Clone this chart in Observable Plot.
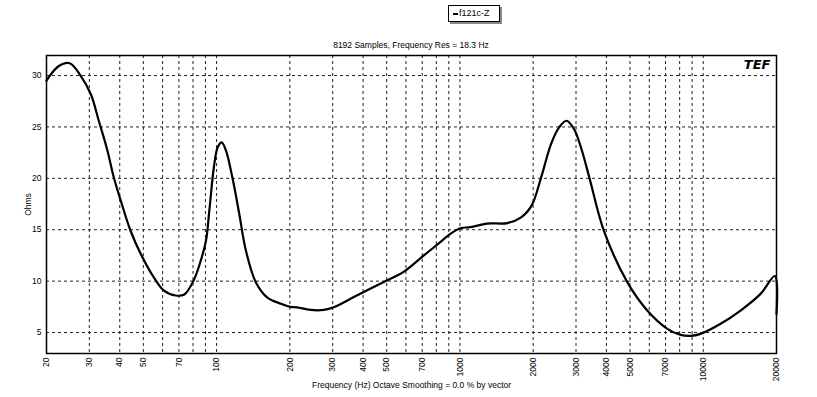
<!DOCTYPE html>
<html>
<head>
<meta charset="utf-8">
<script src="https://cdn.jsdelivr.net/npm/d3@7"></script>
<script src="https://cdn.jsdelivr.net/npm/@observablehq/plot@0.6"></script>
<style>
  body { margin: 0; background: #fff; }
  #wrap { position: relative; width: 817px; height: 397px; font-family: "Liberation Sans", Arial, sans-serif; }
  #legend { position: absolute; left: 448px; top: 5px; width: 52px; height: 17px; border: 1px solid #000; background: #fff;
            box-shadow: 2px 2px 0 #888; font-size: 9px; line-height: 15px; box-sizing: border-box; padding-left: 4px; }
  #legend span.sw { display: inline-block; width: 5px; height: 2px; background: #000; vertical-align: middle; margin-right: 1px; }
  #title { position: absolute; left: 0; width: 822px; top: 40px; text-align: center; font-size: 8.5px; }
  #wrap svg { position: absolute; left: 0; top: 0; }
</style>
</head>
<body>
<div id="wrap">
  <div id="legend"><span class="sw"></span>f121c-Z</div>
  <div id="title">8192 Samples, Frequency Res = 18.3 Hz</div>
</div>
<script>
// Impedance curve (Hz, Ohms)
const freqs = [20, 22.4, 24.9, 27.6, 30.4, 32.8, 35.5, 37.8, 40.3, 44.3, 48.8, 55.1, 60.6, 67.9, 73.7, 80.6, 85.6, 90.4, 93.4, 97.5, 101, 104.9, 109.3, 116.3, 123.8, 131.9, 144.9, 161.8, 183.9, 201, 214, 243, 276, 303, 377, 484, 587, 711, 845, 913, 1004, 1105, 1293, 1571, 1784, 1970, 2157, 2374, 2565, 2741, 2943, 3144, 3410, 3906, 4874, 5888, 7116, 8070, 8872, 9750, 11780, 14230, 17200, 19700, 20000];
const ohms  = [29.5, 30.9, 31.2, 30.0, 28.2, 25.6, 22.8, 20.1, 17.9, 14.9, 12.65, 10.4, 9.1, 8.6, 8.7, 10.1, 11.8, 13.9, 16.9, 21.1, 23.0, 23.5, 22.7, 20.0, 16.6, 13.0, 9.9, 8.4, 7.8, 7.5, 7.45, 7.2, 7.2, 7.45, 8.6, 9.9, 10.9, 12.5, 13.95, 14.6, 15.15, 15.25, 15.6, 15.65, 16.2, 17.35, 20.1, 23.4, 25.0, 25.6, 24.8, 23.0, 20.0, 14.9, 9.9, 7.14, 5.36, 4.77, 4.68, 4.87, 5.85, 7.14, 8.76, 10.5, 6.8];

const gridFreqs = [20, 30, 40, 50, 60, 70, 80, 90, 100, 200, 300, 400, 500, 600, 700, 800, 900, 1000, 2000, 3000, 4000, 5000, 6000, 7000, 8000, 9000, 10000, 20000];
const freqLabels = [20, 30, 40, 50, 70, 100, 200, 300, 400, 500, 700, 1000, 2000, 3000, 4000, 5000, 7000, 10000, 20000];
const ohmTicks = [5, 10, 15, 20, 25, 30];

const xLabel = "Frequency (Hz) Octave Smoothing = 0.0 % by vector";
const yLabel = "Ohms";
const logoText = "TEF";

const data = freqs.map((f, i) => ({f, z: ohms[i]}));

const chart = Plot.plot({
  width: 817,
  height: 397,
  marginLeft: 46,
  marginRight: 41,
  marginTop: 55,
  marginBottom: 44,
  style: {fontFamily: "'Liberation Sans', Arial, sans-serif", fontSize: "8.5px", background: "transparent", color: "#000"},
  x: {type: "log", domain: [20, 20000]},
  y: {domain: [2.96, 31.95]},
  marks: [
    Plot.ruleX(gridFreqs, {stroke: "#222", strokeDasharray: "3,3", strokeWidth: 1}),
    Plot.ruleY(ohmTicks, {stroke: "#222", strokeDasharray: "3,3", strokeWidth: 1}),
    Plot.axisY(ohmTicks, {tickSize: 0, tickPadding: 5, label: yLabel, labelAnchor: "center", labelOffset: 22, labelArrow: "none"}),
    Plot.axisX({ticks: [], tickSize: 0, label: xLabel, labelAnchor: "center", labelOffset: 34, labelArrow: "none"}),
    Plot.text(freqLabels, {x: d => d, text: d => String(d), frameAnchor: "bottom", rotate: -90, textAnchor: "end", lineAnchor: "middle", dy: 4, fontSize: 8.5}),
    Plot.frame({stroke: "#000", strokeWidth: 1.5}),
    Plot.line(data, {x: "f", y: "z", stroke: "#000", strokeWidth: 2.2, curve: "catmull-rom"}),
    Plot.text([logoText], {frameAnchor: "top-right", dx: -6, dy: 4, text: d => d, fontWeight: "bold", fontStyle: "italic", fontSize: 13, textAnchor: "end", fontFamily: "'DejaVu Sans', sans-serif"})
  ]
});
document.getElementById("wrap").appendChild(chart);
</script>
</body>
</html>
